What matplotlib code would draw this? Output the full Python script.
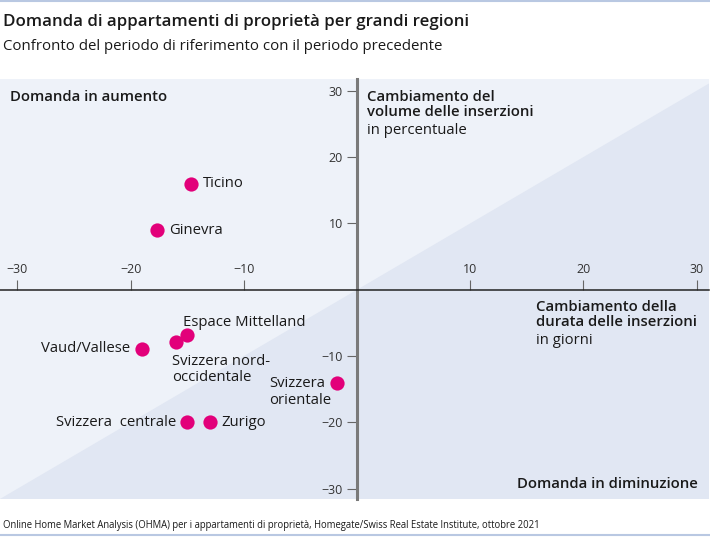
import numpy as np
import matplotlib
matplotlib.use("Agg")
import matplotlib.pyplot as plt

plt.rcParams['font.family'] = ['Open Sans', 'DejaVu Sans']

# data: change in listing duration (days) vs change in listing volume (%)
regions = ['Ticino', 'Ginevra', 'Espace Mittelland', 'Svizzera nord-\noccidentale',
           'Vaud/Vallese', 'Svizzera\norientale', 'Svizzera  centrale', 'Zurigo']
durata = [-14.7, -17.7, -15.0, -16.0, -19.0, -1.8, -15.0, -13.0]
volume = [16.0, 9.0, -6.9, -7.9, -8.9, -14.0, -20.0, -20.0]
# label offsets in pixels (dx, dy, ha)
offsets = [(12, 0, 'left'), (12, 0, 'left'), (-4, 13, 'left'), (-4, -27.5, 'left'),
           (-12, 0, 'right'), (-5, -9.5, 'right'), (-11, 0, 'right'), (12, 0, 'left')]
xticks = [-30, -20, -10, 10, 20, 30]
yticks = [-30, -20, -10, 10, 20, 30]

light = '#eef2f9'
dark = '#e1e7f3'
magenta = '#e2007a'
txt = '#1a1a1a'
fs = 10.7

fig = plt.figure(figsize=(7.1, 5.37), dpi=100)
ax = fig.add_axes([0, (537 - 499) / 537, 709 / 710, (499 - 79) / 537])
ax.set_xlim(-31.54, 31.1)
ax.set_ylim(-31.55, 31.77)
ax.set_facecolor(light)

# darker triangle below the diagonal
xs = np.array([-40, 40])
ax.fill_between(xs, xs, -40, color=dark, lw=0, zorder=0)

for s in ['right', 'bottom']:
    ax.spines[s].set_visible(False)
ax.spines['top'].set_position(('data', 0))
ax.spines['left'].set_position(('data', 0))
ax.spines['top'].set_color('#222222')
ax.spines['top'].set_linewidth(1.1)
ax.spines['left'].set_color('#7a7a7a')
ax.spines['left'].set_linewidth(2.2)
ax.spines['top'].set_zorder(3)

ax.xaxis.set_ticks_position('top')
ax.set_xticks(xticks)
ax.set_yticks(yticks)
ax.tick_params(axis='x', direction='out', length=7, width=0.8, color='#666666',
               labelsize=9, labelcolor='#333333', pad=3)
ax.tick_params(axis='y', direction='out', length=7, width=0.8, color='#666666',
               labelsize=9, labelcolor='#333333', pad=3)

ax.scatter(durata, volume, s=105, color=magenta, zorder=4, linewidths=0)
for name, x, y, (dx, dy, ha) in zip(regions, durata, volume, offsets):
    ax.annotate(name, (x, y), xytext=(dx, dy), textcoords='offset pixels',
                ha=ha, va='center', fontsize=fs, color=txt, multialignment='left',
                linespacing=1.15, zorder=5)

# quadrant texts (pixel positions converted to axes fraction)
def axpos(px, py):
    return px / 709, (499 - py) / (499 - 79)

ax.text(*axpos(10, 97), 'Domanda in aumento', transform=ax.transAxes, fontsize=fs,
        fontweight='semibold', color=txt, va='center')
ax.text(*axpos(367, 90), 'Cambiamento del\nvolume delle inserzioni', transform=ax.transAxes,
        fontsize=fs, fontweight='semibold', color=txt, va='top', linespacing=1.12)
ax.text(*axpos(367, 130), 'in percentuale', transform=ax.transAxes, fontsize=fs,
        color=txt, va='center')
ax.text(*axpos(536, 300), 'Cambiamento della\ndurata delle inserzioni', transform=ax.transAxes,
        fontsize=fs, fontweight='semibold', color=txt, va='top', linespacing=1.12)
ax.text(*axpos(536, 340), 'in giorni', transform=ax.transAxes, fontsize=fs,
        color=txt, va='center')
ax.text(*axpos(698, 484), 'Domanda in diminuzione', transform=ax.transAxes, fontsize=fs,
        fontweight='semibold', color=txt, va='center', ha='right')

# header and footer
fig.text(3 / 710, 1 - 26 / 537, 'Domanda di appartamenti di proprietà per grandi regioni',
         fontsize=12.2, fontweight='semibold', color=txt, va='baseline')
fig.text(3 / 710, 1 - 50 / 537, 'Confronto del periodo di riferimento con il periodo precedente',
         fontsize=10.8, color=txt, va='baseline')
fig.text(3 / 710, 1 - 528 / 537,
         'Online Home Market Analysis (OHMA) per i appartamenti di proprietà, '
         'Homegate/Swiss Real Estate Institute, ottobre 2021',
         fontsize=6.85, color=txt, va='baseline')
fig.add_artist(plt.Line2D([0, 1], [1 - 1 / 537, 1 - 1 / 537], color='#b9c8e2', lw=1.5,
                          transform=fig.transFigure))
fig.add_artist(plt.Line2D([0, 1], [1 - 535 / 537, 1 - 535 / 537], color='#b9c8e2', lw=1.5,
                          transform=fig.transFigure))

fig.savefig('out.png', dpi=100)
